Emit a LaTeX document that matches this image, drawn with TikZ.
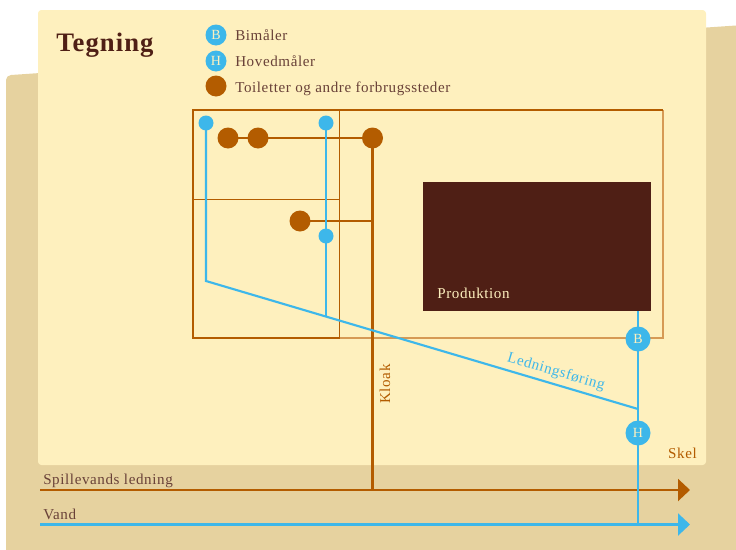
\documentclass[tikz,border=0pt]{standalone}
\usepackage{fontspec}
\setmainfont[LetterSpace=4]{Liberation Serif}
\usetikzlibrary{arrows.meta}
\definecolor{card}{HTML}{FEF0BE}
\definecolor{tan}{HTML}{E6D29F}
\definecolor{pipe}{HTML}{B35C00}
\definecolor{wall}{HTML}{D69A55}
\definecolor{dark}{HTML}{4F1F15}
\definecolor{water}{HTML}{3DB7EA}
\tikzset{
  txt/.style={text=dark!85!white,font=\fontsize{11.3}{13}\selectfont,inner sep=0pt},
  hole/.style={circle,fill=pipe,inner sep=0pt,outer sep=0pt,minimum size=15.75pt},
  tap/.style={circle,fill=water,inner sep=0pt,outer sep=0pt,minimum size=11.25pt},
  meter/.style={circle,fill=water,inner sep=0pt,outer sep=0pt,text=card,font=\fontsize{10.5}{12}\selectfont},
  brownline/.style={draw=pipe,line width=1.6pt},
  blueline/.style={draw=water,line width=1.6pt},
  joined/.style={shorten <=-0.8pt,shorten >=-0.8pt},
}
\begin{document}
\begin{tikzpicture}[x=0.75pt,y=-0.75pt]
\useasboundingbox (0,0) rectangle (736,550);
\fill [tan] (6,550) -- (6,80) to[out=90,in=184] (11,75) -- (736,25.5) -- (736,550) -- cycle;
\fill [card,rounded corners=2.5pt] (38,10) rectangle (706,465);
% rooms
\draw [wall,line width=1.1pt] (339.5,338) -- (663,338) -- (663,110);
\draw [pipe,line width=0.8pt] (339.5,110) -- (663,110);
\draw [pipe,line width=1pt] (193,110) rectangle (339.5,338);
\draw [pipe,line width=0.8pt] (193,199.5) -- (339.5,199.5);
\draw [pipe,line width=1.2pt] (193,338) -- (339.5,338);
\fill [dark] (423,182) rectangle (651,311);
\node [txt,text=card,anchor=base west] (prod) at (437,298) {Produktion};
% title and legend
\node [anchor=base west,inner sep=0pt,text=dark,font=\fontsize{20}{22}\selectfont\bfseries] (title) at (56,51) {Tegning};
\foreach \y/\name/\label in {35/legb/B,61/legh/H} {
  \node [meter,minimum size=15.75pt] (\name) at (216,\y) {\label};
}
\node [hole] (legt) at (216,86) {};
\foreach \y/\name/\label in {40/txtb/Bimåler,66/txth/Hovedmåler,92/txtt/Toiletter og andre forbrugssteder} {
  \node [txt,anchor=base west] (\name) at (235,\y) {\label};
}
% main lines
\coordinate (sstart) at (40,490);
\coordinate (send) at (690,490);
\coordinate (vstart) at (40,524.5);
\coordinate (vend) at (690,524.5);
\coordinate (sjoin) at (372.5,490);
\coordinate (vjoin) at (638,524.5);
% brown pipes
\node [hole] (t1) at (228,138) {};
\node [hole] (t2) at (258,138) {};
\node [hole] (t3) at (372.5,138) {};
\node [hole] (t4) at (300,221) {};
\coordinate (k1) at (372.5,221);
\draw [brownline,joined] (t1) -- (t2);
\draw [brownline,joined] (t2) -- (t3);
\draw [brownline,joined] (t4) -- (k1);
\draw [brownline,joined] (t3) -- (sjoin);
\draw [brownline,-{Triangle[length=9pt,width=16.5pt]}] (sstart) -- (send);
% blue pipes
\node [tap] (b1) at (206,123) {};
\node [tap] (b2) at (326,123) {};
\node [tap] (b3) at (326,236) {};
\node [meter,minimum size=18.75pt] (bm) at (638,339) {B};
\node [meter,minimum size=18.75pt] (hm) at (638,433) {H};
\coordinate (c1) at (206,281);
\coordinate (c2) at (638,409);
\coordinate (c3) at (326,317);
\coordinate (c4) at (638,311);
\draw [blueline,shorten <=-0.8pt] (b1) -- (c1) -- (c2);
\draw [blueline,joined] (b2) -- (b3);
\draw [blueline,shorten <=-0.8pt] (b3) -- (c3);
\draw [blueline,shorten >=-0.8pt] (c4) -- (bm);
\draw [blueline,joined] (bm) -- (hm);
\draw [blueline,shorten <=-0.8pt] (hm) -- (vjoin);
\draw [blueline,-{Triangle[length=9pt,width=16.5pt]}] (vstart) -- (vend);
% labels
\node [txt,text=water,rotate=-16.5] (ledn) at (556,372) {Ledningsføring};
\node [txt,text=pipe,rotate=90] (kloak) at (385,384) {Kloak};
\node [txt,text=pipe,anchor=base east] (skel) at (697,458) {Skel};
\node [txt,anchor=base west] (spill) at (43,484) {Spillevands ledning};
\node [txt,anchor=base west] (vand) at (43,519) {Vand};
\end{tikzpicture}
\end{document}
